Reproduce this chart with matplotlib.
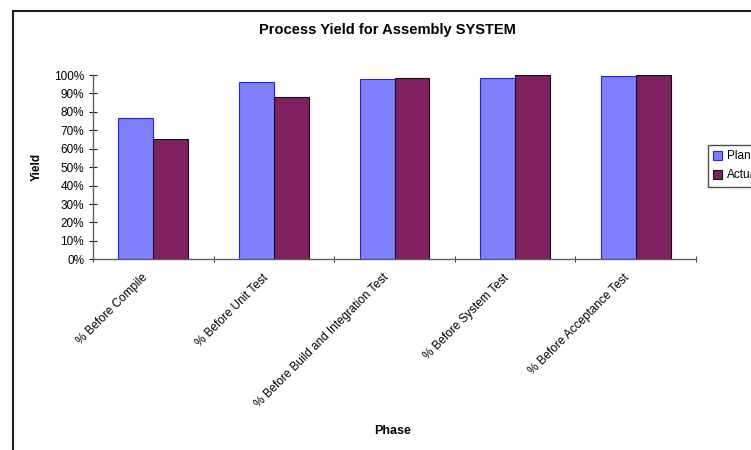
import matplotlib
matplotlib.use('Agg')
import matplotlib.pyplot as plt
from matplotlib.patches import Rectangle
import numpy as np

plt.rcParams.update({
    'font.family': ['Liberation Sans', 'DejaVu Sans'],
    'font.size': 8.5,
})

phases = ['% Before Compile', '% Before Unit Test', '% Before Build and Integration Test',
          '% Before System Test', '% Before Acceptance Test']
plan = [0.764, 0.960, 0.978, 0.982, 0.996]
actual = [0.652, 0.880, 0.982, 1.000, 1.000]
yticks = np.arange(0, 1.01, 0.1)
ytick_labels = [f'{int(round(t * 100))}%' for t in yticks]

fig = plt.figure(figsize=(7.51, 4.5), dpi=100)
ax = fig.add_axes([93 / 751, 1 - 259.3 / 450, 603 / 751, 184.3 / 450])

x = np.arange(len(phases))
width = 0.29
ax.bar(x - width / 2, plan, width, color='#8080FF', edgecolor='#2020FF', linewidth=0.8, label='Plan')
ax.bar(x + width / 2, actual, width, color='#802060', edgecolor='#101010', linewidth=0.8, label='Actual')

ax.set_xlim(-0.5, len(phases) - 0.5)
ax.set_ylim(0, 1)
ax.set_yticks(yticks)
ax.set_yticklabels(ytick_labels)
# labels sit a little left of the category centre, like the original
ax.set_xticks(x - 0.1)
ax.set_xticklabels(phases, rotation=45, ha='right', rotation_mode='anchor')
ax.set_xticks(np.arange(-0.5, len(phases), 1), minor=True)
ax.tick_params(axis='x', which='major', length=0, pad=9)
ax.tick_params(axis='x', which='minor', length=5, direction='inout', color='#202020')
ax.tick_params(axis='y', length=5.8, direction='inout', color='#202020', pad=3.5)
for s in ['top', 'right']:
    ax.spines[s].set_visible(False)
for s in ['left', 'bottom']:
    ax.spines[s].set_color('#606060')
    ax.spines[s].set_linewidth(1.0)

fig.text(387 / 751, 1 - 30 / 450, 'Process Yield for Assembly SYSTEM', ha='center', va='center',
         fontsize=10.5, fontweight='bold')
fig.text(36.7 / 751, 1 - 167 / 450, 'Yield', rotation=90, ha='center', va='center',
         fontsize=8.5, fontweight='bold')
fig.text(393 / 751, 1 - 431 / 450, 'Phase', ha='center', va='center',
         fontsize=9, fontweight='bold')

leg = fig.legend(loc='upper left', bbox_to_anchor=(707.5 / 751, 1 - 145 / 450), frameon=True,
                 fancybox=False, edgecolor='#202020', fontsize=8.5, handlelength=0.8,
                 handleheight=0.8, handletextpad=0.4, borderpad=0.45, labelspacing=0.6,
                 borderaxespad=0)
leg.get_frame().set_linewidth(1.0)

fig.patches.append(Rectangle((13 / 751, -0.1), 1.2, 1.1 - 10.5 / 450, transform=fig.transFigure,
                             fill=False, edgecolor='#202020', linewidth=1.5))

plt.savefig('out.png', dpi=100)
plt.close()
